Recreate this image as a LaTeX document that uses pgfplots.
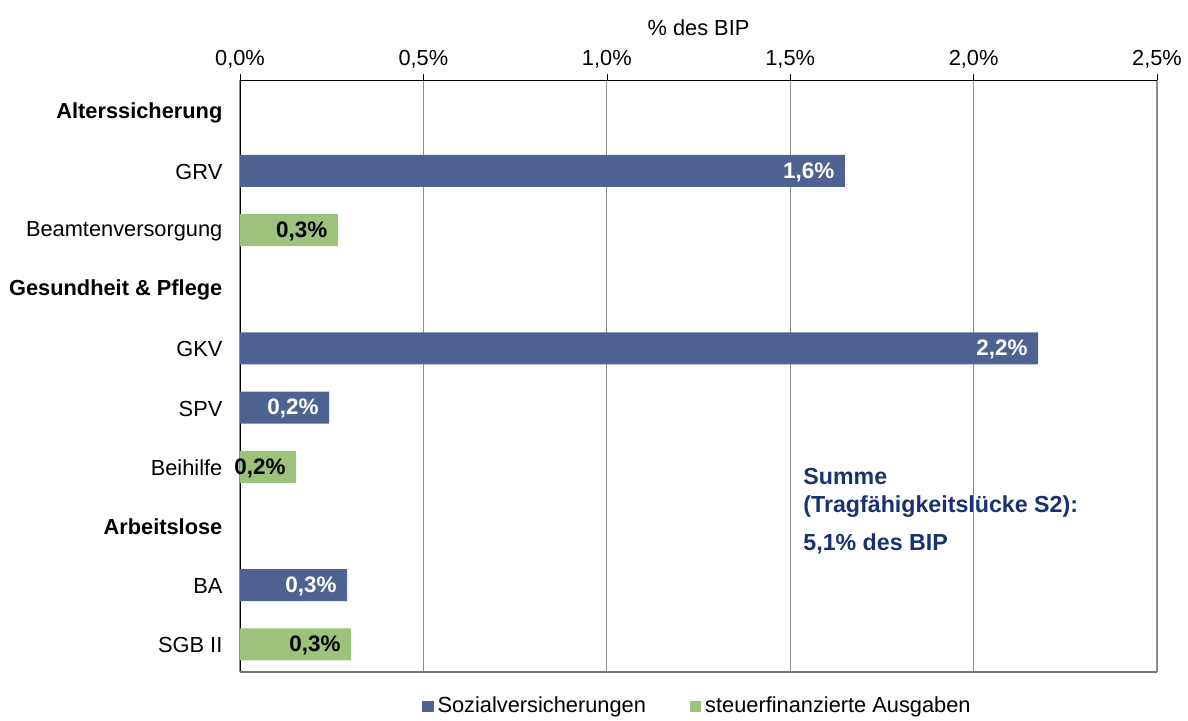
\documentclass[border=0pt]{standalone}
\usepackage{pgfplots}
\pgfplotsset{compat=1.18}
\usepackage{fontspec}
\setmainfont{Liberation Sans}
\definecolor{sozblue}{HTML}{4E6391}
\definecolor{steuergreen}{HTML}{9BC37C}
\definecolor{navytext}{HTML}{17326E}
\begin{document}
\fontsize{10.9}{13}\selectfont
\begin{tikzpicture}[x=1pt,y=1pt]
\useasboundingbox (0,0) rectangle (594,360);
\begin{axis}[
  at={(120pt,24pt)}, anchor=south west,
  scale only axis, width=458.5pt, height=296pt,
  /pgf/number format/assume math mode=true,
  xbar, bar width=16pt, bar shift=-1pt,
  xmin=0, xmax=2.5, ymin=-0.5, ymax=9.5, y dir=reverse,
  axis x line*=top, axis y line*=left,
  axis line style={black, -},
  xtick={0,0.5,1,1.5,2,2.5},
  xticklabel={\pgfmathprintnumber[fixed,fixed zerofill,precision=1,use comma]{\tick}\%},
  xticklabel style={yshift=-1pt},
  x tick style={black}, tick align=outside, major tick length=3pt,
  xlabel={\% des BIP}, xlabel style={yshift=0pt},
  xmajorgrids, grid style={gray!90!white, line width=0.6pt},
  ytick={0,...,9},
  yticklabels={\textbf{Alterssicherung},GRV,Beamtenversorgung,\textbf{Gesundheit \& Pflege},GKV,SPV,Beihilfe,\textbf{Arbeitslose},BA,SGB II},
  y tick style={draw=none},
  yticklabel style={xshift=-2pt, yshift=-1.5pt},
  legend style={at={(0.5,-0.058)}, anchor=center, draw=none, legend columns=2,
    /tikz/every even column/.append style={column sep=20pt}, font=\fontsize{10.9}{13}\selectfont},
  legend image code/.code={\fill[#1] (0pt,-2.8pt) rectangle (5.6pt,2.8pt);},
  point meta=x,
  nodes near coords={\bfseries\pgfmathprintnumber[fixed,fixed zerofill,precision=1,use comma]{\pgfplotspointmeta}\%},
  nodes near coords style={anchor=east, xshift=-1.5pt, yshift=-0.6pt, font=\fontsize{11.2}{13}\selectfont},
]
\addplot[fill=sozblue, draw=none, nodes near coords style={white}] coordinates {
  (1.649,1) (2.176,4) (0.243,5) (0.292,8)
};
\addlegendentry{Sozialversicherungen}
\addplot[fill=steuergreen, draw=none, nodes near coords style={black}] coordinates {
  (0.267,2) (0.153,6) (0.303,9)
};
\addlegendentry{steuerfinanzierte Ausgaben}
\draw[gray!90!black, line width=0.8pt] (axis cs:0,9.5) -- (axis cs:2.5,9.5);
\node[anchor=north west, align=left, inner sep=0pt, text=navytext,
  font=\fontsize{11.6}{14}\selectfont\bfseries] at (axis cs:1.535,6.05)
  {Summe\\(Tragfähigkeitslücke S2):\\[5pt]5,1\% des BIP};
\end{axis}
\end{tikzpicture}
\end{document}
